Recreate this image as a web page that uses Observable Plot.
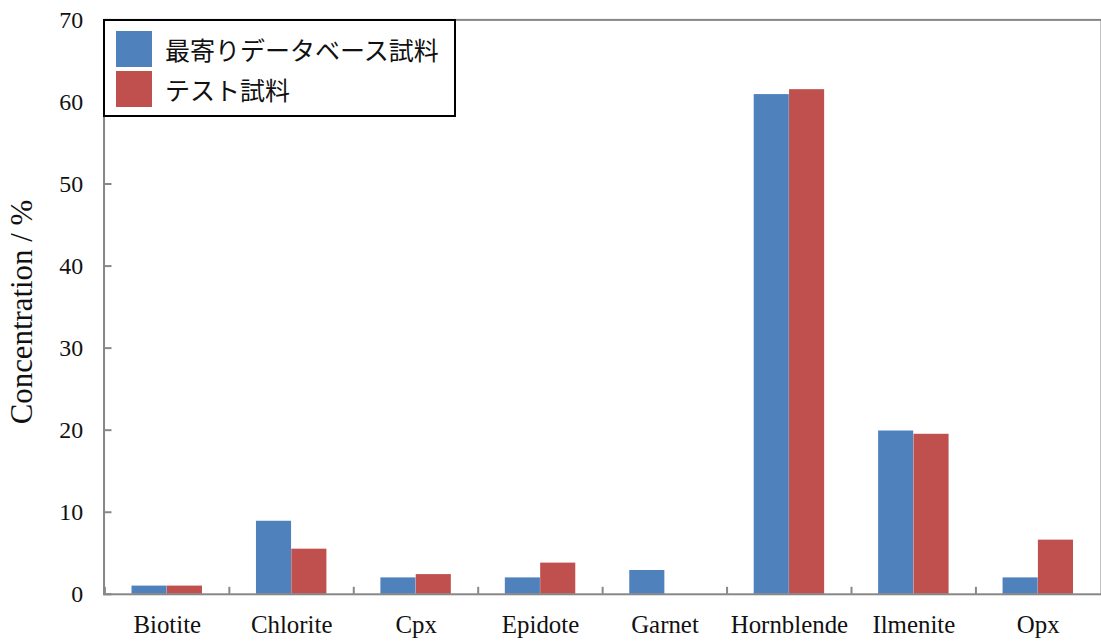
<!DOCTYPE html>
<html>
<head>
<meta charset="utf-8">
<script src="https://cdn.jsdelivr.net/npm/d3@7"></script>
<script src="https://cdn.jsdelivr.net/npm/@observablehq/plot@0.6"></script>
<style>
  html, body { margin: 0; padding: 0; overflow: hidden; background: #fff; }
  #wrap { position: relative; width: 1101px; height: 641px; overflow: hidden; }
  #wrap svg { display: block; }
  .legend {
    position: absolute; left: 103px; top: 19px; width: 349px; height: 94px;
    border: 2px solid #000; background: #fff;
    font-family: "Noto Sans CJK JP", sans-serif; font-size: 25px; color: #111;
  }
  .row { position: absolute; left: 11px; height: 36px; display: flex; align-items: center; }
  .sw { width: 36px; height: 36px; margin-right: 13px; }
</style>
</head>
<body>
<div id="wrap"></div>
<script>
const minerals = ["Biotite", "Chlorite", "Cpx", "Epidote", "Garnet", "Hornblende", "Ilmenite", "Opx"];
const nearestValues = [1.0, 8.9, 2.0, 2.0, 2.9, 60.9, 19.9, 2.0];
const testValues = [1.0, 5.5, 2.4, 3.8, 0, 61.5, 19.5, 6.6];
const seriesNames = ["最寄りデータベース試料", "テスト試料"];
const seriesColors = ["#4F81BD", "#C0504D"];
const yTicks = [0, 10, 20, 30, 40, 50, 60, 70];
const yTitle = "Concentration / %";

const rows = minerals.map((m, i) => ({mineral: m, nearest: nearestValues[i], test: testValues[i]}));

const W = 1106, H = 641, ML = 104, MR = 0, MT = 19.5, MB = 44.5;
const step = (W - ML - MR) / minerals.length;
const groupFrac = 0.567;
const outer = step * (1 - groupFrac) / 2;
const half = step / 2;
const gray = "#878787";

const plot = Plot.plot({
  width: W, height: H,
  marginLeft: ML, marginRight: MR, marginTop: MT, marginBottom: MB,
  style: {fontFamily: "'Liberation Serif', 'Times New Roman', serif", color: "#111", background: "#fff"},
  x: {domain: minerals, paddingInner: 0, paddingOuter: 0},
  y: {domain: [0, 70]},
  marks: [
    Plot.barY(rows, {x: "mineral", y: "nearest", fill: seriesColors[0], insetLeft: outer, insetRight: half}),
    Plot.barY(rows, {x: "mineral", y: "test", fill: seriesColors[1], insetLeft: half, insetRight: outer}),
    Plot.frame({stroke: gray, strokeWidth: 2}),
    Plot.axisX({tickSize: 0, tickPadding: 21, fontSize: 25, label: null}),
    Plot.axisX({tickSize: 7, dy: -7, dx: -half, tickFormat: () => "", stroke: gray, strokeWidth: 2, label: null}),
    Plot.axisY({ticks: yTicks, tickSize: 0, tickPadding: 21, fontSize: 24, label: null}),
    Plot.axisY({ticks: yTicks, tickSize: 8, dx: 8, tickFormat: () => "", stroke: gray, strokeWidth: 2, label: null}),
    Plot.text([yTitle], {frameAnchor: "left", textAnchor: "middle", dx: -82, dy: 5, rotate: -90, fontSize: 31, fill: "#111"})
  ]
});

const wrap = document.getElementById("wrap");
wrap.appendChild(plot);

const legend = document.createElement("div");
legend.className = "legend";
seriesNames.forEach((name, i) => {
  const row = document.createElement("div");
  row.className = "row";
  row.style.top = (10 + i * 40) + "px";
  const sw = document.createElement("div");
  sw.className = "sw";
  sw.style.background = seriesColors[i];
  const label = document.createElement("span");
  label.textContent = name;
  row.appendChild(sw);
  row.appendChild(label);
  legend.appendChild(row);
});
wrap.appendChild(legend);
</script>
</body>
</html>
